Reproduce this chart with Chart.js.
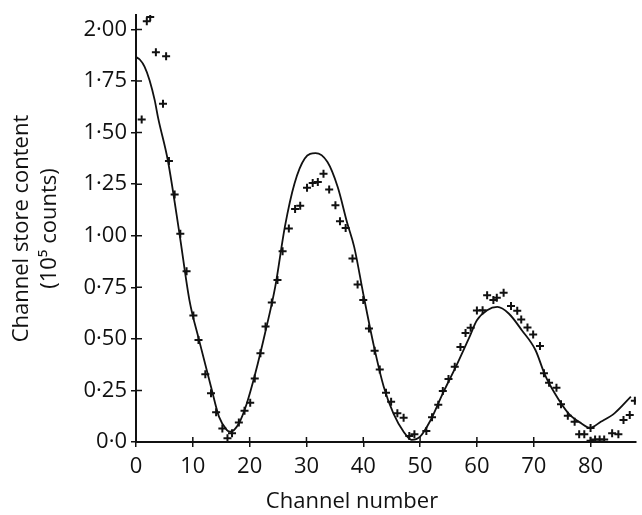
<!DOCTYPE html>
<html>
<head>
<meta charset="utf-8">
<script src="https://cdn.jsdelivr.net/npm/chart.js@4"></script>
<style>
  html, body { margin: 0; padding: 0; background: #fff; }
  canvas { display: block; }
</style>
</head>
<body>
<canvas id="chart" width="642" height="515"></canvas>
<script>
'use strict';

// ── Data ──────────────────────────────────────────────────────────────────────

// measured channel contents (+ marks)
const pointChannels = [
  1.0, 1.9, 2.5, 3.5, 4.75, 5.3, 5.8, 6.8, 7.8, 8.9, 10.1, 11.0, 12.2, 13.2, 14.1, 15.2,
  16.1, 16.9, 18.1, 19.1, 20.1, 20.9, 21.9, 22.8, 23.9, 24.9, 25.8, 26.9, 28.0, 28.9,
  30.1, 31.1, 32.0, 33.0, 34.0, 35.1, 35.9, 36.9, 38.1, 39.0, 40.0, 41.0, 42.0, 42.9,
  44.0, 44.9, 46.0, 47.1, 48.1, 49.0, 51.1, 52.1, 53.2, 54.0, 55.0, 56.1, 57.1, 58.0,
  58.9, 60.0, 61.0, 61.8, 62.9, 63.5, 64.7, 66.0, 67.1, 67.8, 68.9, 69.9, 71.1, 71.8,
  72.7, 74.0, 74.8, 76.0, 77.2, 78.0, 78.9, 80.0, 80.0, 80.8, 81.6, 82.4, 83.8, 84.9,
  85.8, 86.9, 87.8,
];
const pointCounts = [
  1.563, 2.04, 2.06, 1.89, 1.64, 1.87, 1.362, 1.20, 1.01, 0.828, 0.613, 0.494, 0.328, 0.236, 0.144, 0.066,
  0.018, 0.042, 0.094, 0.152, 0.19, 0.308, 0.43, 0.56, 0.676, 0.785, 0.925, 1.035, 1.13, 1.145,
  1.233, 1.255, 1.26, 1.30, 1.224, 1.148, 1.07, 1.038, 0.89, 0.764, 0.688, 0.55, 0.442, 0.352,
  0.239, 0.195, 0.139, 0.118, 0.029, 0.037, 0.053, 0.12, 0.18, 0.247, 0.305, 0.365, 0.46, 0.528,
  0.554, 0.638, 0.639, 0.712, 0.688, 0.699, 0.723, 0.659, 0.636, 0.594, 0.555, 0.521, 0.465, 0.333,
  0.287, 0.263, 0.183, 0.127, 0.098, 0.037, 0.037, 0.068, 0.006, 0.012, 0.012, 0.012, 0.042, 0.037,
  0.107, 0.131, 0.2,
];

// calculated curve (solid line)
const curveChannels = [
  0, 0.7, 1.5, 2.4, 3.3, 3.9, 5.6, 7.65, 9.4, 11.1, 13.2, 14.6, 16.0, 16.6, 18.1, 19.5,
  21, 22.7, 24.5, 26.2, 27.9, 29.7, 31.6, 33.7, 35.5, 37.2, 38.4, 40.1, 41.9, 43.6, 45.3,
  47.1, 48.5, 50, 51.7, 54, 56.3, 58.7, 60, 61.8, 63.6, 65.6, 67.9, 70.3, 72, 73.7, 76.1,
  78.4, 79.9, 81.8, 84.2, 87.1,
];
const curveCounts = [
  1.866, 1.853, 1.82, 1.753, 1.656, 1.57, 1.366, 1.01, 0.688, 0.494, 0.268, 0.123, 0.058, 0.05, 0.09, 0.187,
  0.333, 0.526, 0.752, 1.043, 1.253, 1.374, 1.40, 1.357, 1.236, 1.059, 0.946, 0.704, 0.461, 0.268, 0.139,
  0.05, 0.01, 0.026, 0.098, 0.236, 0.365, 0.51, 0.59, 0.639, 0.655, 0.623, 0.542, 0.446, 0.324, 0.236, 0.139,
  0.09, 0.069, 0.098, 0.139, 0.22,
];

const xTickValues = [0, 10, 20, 30, 40, 50, 60, 70, 80];
const yTickValues = [0, 0.25, 0.5, 0.75, 1.0, 1.25, 1.5, 1.75, 2.0];
const yTickLabels = ['0·0', '0·25', '0·50', '0·75', '1·00', '1·25', '1·50', '1·75', '2·00'];

const xTitle = 'Channel number';
const yTitle = ['Channel store content', '(10⁵ counts)'];

// ── Helpers ───────────────────────────────────────────────────────────────────

const ink    = '#111';
const family = "'Open Sans', 'DejaVu Sans', sans-serif";
const font   = size => ({ family, size, lineHeight: 1.0 });

const pairs = (xs, ys) => xs.map((x, i) => ({ x, y: ys[i] }));

// tick marks cross the axis: Chart.js draws the outer half, this draws the inner half
const crossTicks = {
  id: 'crossTicks',
  afterDatasetsDraw(chart) {
    const { ctx, chartArea, scales: { x, y } } = chart;
    ctx.save();
    ctx.strokeStyle = ink;
    ctx.lineWidth = 1.5;
    ctx.beginPath();
    xTickValues.forEach(v => {
      const px = x.getPixelForValue(v);
      ctx.moveTo(px, chartArea.bottom);
      ctx.lineTo(px, chartArea.bottom - 5);
    });
    yTickValues.forEach(v => {
      const py = y.getPixelForValue(v);
      ctx.moveTo(chartArea.left, py);
      ctx.lineTo(chartArea.left + 6, py);
    });
    ctx.stroke();
    ctx.restore();
  },
};

// x title sits left of the plot centre in the original, so it is placed by hand
const xAxisTitle = {
  id: 'xAxisTitle',
  afterDraw(chart) {
    const { ctx } = chart;
    ctx.save();
    ctx.fillStyle = ink;
    ctx.font = `22px ${family}`;
    ctx.textAlign = 'center';
    ctx.textBaseline = 'middle';
    ctx.fillText(xTitle, 352, 502);
    ctx.restore();
  },
};

// ── Chart ─────────────────────────────────────────────────────────────────────

new Chart(document.getElementById('chart'), {
  type: 'scatter',
  data: {
    datasets: [
      {
        data: pairs(curveChannels, curveCounts),
        showLine: true,
        borderColor: ink,
        borderWidth: 1.8,
        pointRadius: 0,
        cubicInterpolationMode: 'monotone',
      },
      {
        data: pairs(pointChannels, pointCounts),
        showLine: false,
        pointStyle: 'cross',
        pointRadius: 4,
        borderColor: ink,
        borderWidth: 2,
      },
    ],
  },
  options: {
    responsive: false,
    animation: false,
    layout: { padding: { top: 15, right: 0, left: 0, bottom: 0 } },
    plugins: { legend: { display: false }, tooltip: { enabled: false } },
    scales: {
      x: {
        type: 'linear',
        min: 0,
        max: 88,
        afterFit: s => { s.height = 73; },
        afterBuildTicks: s => { s.ticks = xTickValues.map(value => ({ value })); },
        ticks: {
          color: ink,
          font: font(22),
          padding: 9,
          callback: v => String(v),
        },
        grid: { drawOnChartArea: false, tickLength: 5, color: ink, lineWidth: 1.5 },
        border: { color: ink, width: 2 },
        title: { display: false },
      },
      y: {
        type: 'linear',
        min: 0,
        max: 2.07,
        afterFit: s => { s.width = 136; },
        afterBuildTicks: s => { s.ticks = yTickValues.map(value => ({ value })); },
        ticks: {
          color: ink,
          font: font(22),
          padding: 4,
          callback: (v, i) => yTickLabels[i],
        },
        grid: { drawOnChartArea: false, tickLength: 5, color: ink, lineWidth: 1.5 },
        border: { color: ink, width: 2 },
        title: {
          display: true,
          text: yTitle,
          color: ink,
          font: { family, size: 22, lineHeight: 1.3 },
          padding: { top: 7, bottom: 0 },
        },
      },
    },
  },
  plugins: [crossTicks, xAxisTitle],
});
</script>
</body>
</html>
